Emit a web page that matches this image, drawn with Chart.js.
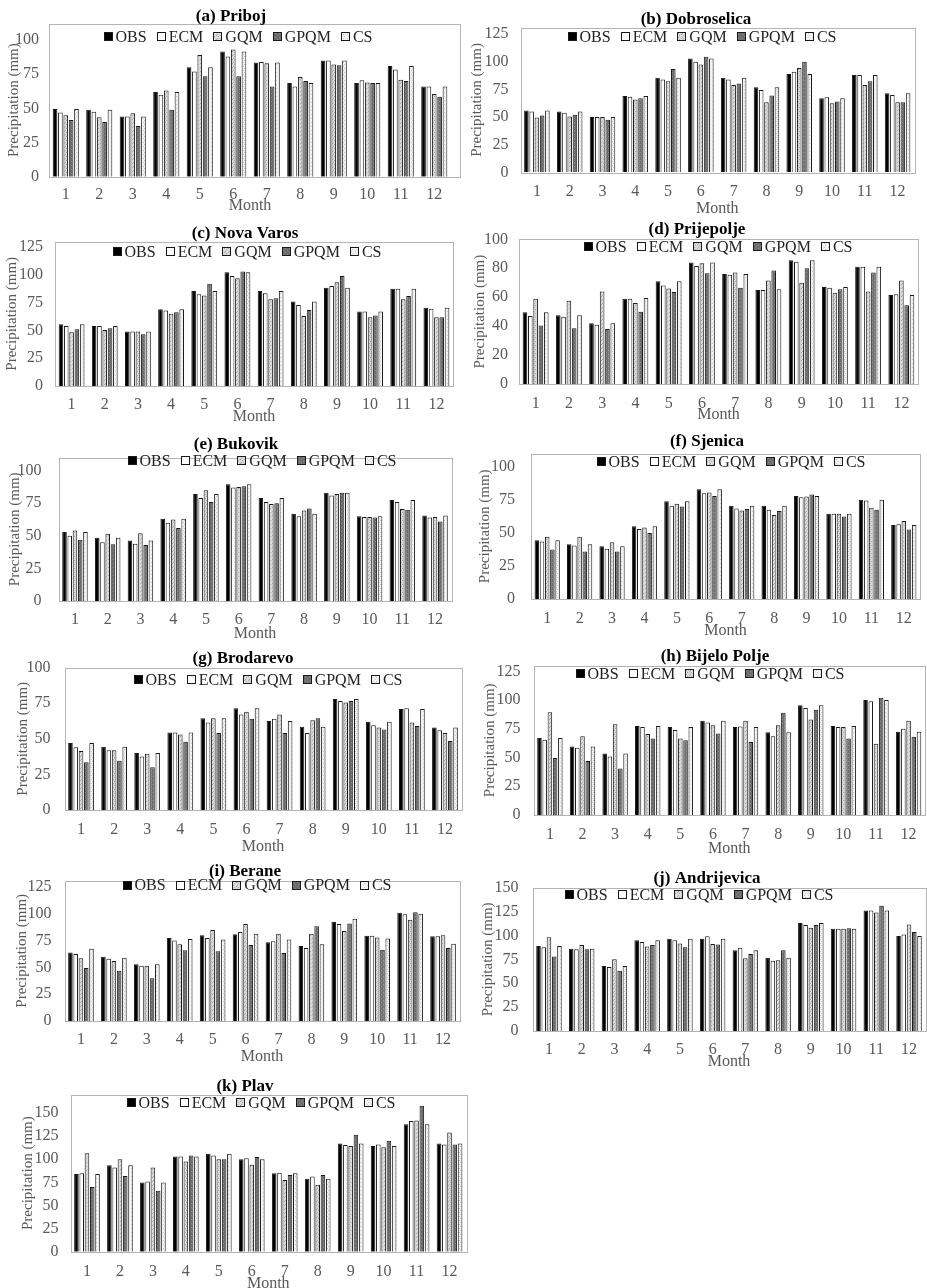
<!DOCTYPE html>
<html>
<head>
<meta charset="utf-8">
<title>Monthly precipitation by station</title>
<script src="https://cdn.jsdelivr.net/npm/chart.js@4.4.1/dist/chart.umd.min.js"></script>
<style>
    body { margin: 0; background: #fff; }
    #page { position: relative; width: 927px; height: 1288px; overflow: hidden; background: #fff; }
    #page canvas { position: absolute; }
</style>
</head>
<body>
<div id="page"></div>
<script>
// data (mm), one row per station a..k
const months = ['1', '2', '3', '4', '5', '6', '7', '8', '9', '10', '11', '12'];
const seriesNames = ['OBS', 'ECM', 'GQM', 'GPQM', 'CS'];
const stations = ['(a) Priboj', '(b) Dobroselica', '(c) Nova Varos', '(d) Prijepolje', '(e) Bukovik', '(f) Sjenica',
    '(g) Brodarevo', '(h) Bijelo Polje', '(i) Berane', '(j) Andrijevica', '(k) Plav'];
const yMax = [112, 131, 130, 100, 110, 110, 100, 130, 131, 150, 170];
const yStep = [25, 25, 25, 20, 25, 25, 25, 25, 25, 25, 25];

const obsValues = [
    [49.5, 49, 44, 62, 80, 91.5, 83.5, 68.5, 85, 68.5, 81, 66],
    [56, 55, 50, 69, 85.5, 103, 85.5, 77, 89, 67, 88, 71.5],
    [55.5, 54, 49, 69, 85.5, 102.5, 85.5, 76, 88.5, 67, 87.5, 70.5],
    [49.5, 47.5, 42, 59, 71, 84, 76, 65, 85.5, 67, 81, 61.5],
    [53, 48.5, 46.5, 63, 82, 89.5, 79, 67, 83, 65, 77.5, 65.5],
    [44.5, 41.5, 40, 55, 74, 83, 70.5, 70.5, 78, 64.5, 75, 56],
    [47, 44.5, 40, 54.5, 64.5, 71.5, 62.5, 58.5, 78, 62, 71, 58],
    [67, 59.5, 53.5, 77.5, 76.5, 82, 76.5, 72, 95.5, 77.5, 100, 72.5],
    [64, 60, 53, 77.5, 80, 81, 73.5, 70, 92.5, 79.5, 101, 79],
    [89, 86, 68, 95, 96.5, 96.5, 84.5, 76.5, 113, 107, 126, 99.5],
    [84, 93.5, 75, 103, 106, 100, 85, 79, 117, 114.5, 138, 117]
];
const ecmValues = [
    [47, 47.5, 44, 60, 77, 88, 84, 66, 85, 70.5, 78.5, 66],
    [55, 54, 50, 68.5, 84, 100, 84, 74.5, 91, 68, 88, 70],
    [54, 54, 49, 68, 82.5, 99, 83.5, 73, 90, 67, 87.5, 69.5],
    [47, 46.5, 41, 59, 68, 81.5, 75.5, 65, 84.5, 66.5, 81, 62],
    [50, 45, 44, 60, 79, 87, 76, 65, 81, 64.5, 76, 64],
    [43.5, 40.5, 38, 53, 70.5, 80, 68.5, 67.5, 77, 64.5, 74.5, 56.5],
    [44, 42, 37.5, 54.5, 61.5, 67, 64, 54, 76.5, 59.5, 71.5, 56],
    [65.5, 58.5, 51, 76.5, 74, 80.5, 77, 68.5, 93, 76.5, 99, 75],
    [62.5, 58, 51.5, 75, 77.5, 83, 74.5, 68, 90.5, 79.5, 99.5, 79],
    [87.5, 85.5, 67, 93, 95, 99, 87, 73.5, 111, 107, 126, 101],
    [85, 91, 76, 103, 104, 101, 85.5, 81.5, 115.5, 116, 141.5, 116]
];
const gqmValues = [
    [45, 43.5, 46.5, 63, 89, 93, 83, 73, 82, 69, 71, 60.5],
    [49.5, 50.5, 50, 66, 82.5, 97.5, 79, 63.5, 94.5, 62.5, 79, 63.5],
    [48.5, 50.5, 49, 65, 81.5, 97, 78, 63, 93.5, 62, 78, 62],
    [59, 57.5, 64, 56, 66, 83.5, 77, 71.5, 70, 63, 64, 71.5],
    [54, 51.5, 52, 62.5, 85, 87.5, 74.5, 69.5, 82, 64.5, 70.5, 64.5],
    [47, 47, 43, 54, 72, 80.5, 67, 63.5, 77.5, 64.5, 69, 59],
    [41.5, 42, 39.5, 53, 64.5, 69, 67, 63, 75.5, 58, 61.5, 54],
    [89.5, 68.5, 79, 70.5, 66.5, 78, 82, 78, 83, 76.5, 62, 82],
    [58.5, 56, 51.5, 71.5, 85, 90.5, 81.5, 81.5, 84, 78, 94.5, 80],
    [98, 90, 75, 88.5, 91.5, 91, 76, 74, 108, 107, 124, 111.5],
    [106.5, 100, 91, 97.5, 100, 94, 77.5, 72.5, 114.5, 113, 142, 129]
];
const gpqmValues = [
    [41.5, 40, 37, 49, 73.5, 73.5, 66, 70, 81.5, 68.5, 70, 58.5],
    [51.5, 52, 47.5, 67, 93.5, 104.5, 80.5, 69.5, 100, 64, 82.5, 63.5],
    [51, 52, 46.5, 66.5, 92, 103, 79, 68.5, 99, 63.5, 81, 62],
    [40.5, 38.5, 38, 50, 63.5, 76.5, 66.5, 78.5, 80, 65.5, 77, 54.5],
    [47, 43.5, 43, 56, 76, 88, 75, 71, 83, 64, 70, 61],
    [37.5, 36, 36, 50, 70, 78, 68, 66.5, 79, 62.5, 67.5, 52.5],
    [33.5, 34.5, 30, 48, 54, 64, 54, 64.5, 76.5, 56.5, 59, 48.5],
    [49.5, 47, 40.5, 66.5, 65, 71, 63.5, 89, 91.5, 66.5, 102, 68],
    [49.5, 47, 40, 66, 65, 71, 63.5, 88.5, 91, 66.5, 101.5, 68],
    [78, 85.5, 63, 90, 87.5, 90.5, 80.5, 84.5, 111, 107.5, 131, 103.5],
    [70, 82, 66, 104, 100, 102.5, 83, 83, 126.5, 120, 158, 116]
];
const csValues = [
    [49.5, 49, 44, 62, 80, 91.5, 83.5, 68.5, 85, 68.5, 81, 66],
    [56, 55, 50, 69, 85.5, 103, 85.5, 77, 89, 67, 88, 71.5],
    [55.5, 54, 49, 69, 85.5, 102.5, 85.5, 76, 88.5, 67, 87.5, 70.5],
    [49.5, 47.5, 42, 59.5, 71, 84, 76, 65.5, 85.5, 67, 81, 61.5],
    [53, 48.5, 46.5, 63, 82, 89.5, 79, 67, 83, 65, 77.5, 65.5],
    [44.5, 41.5, 40, 55, 74, 83, 70.5, 70.5, 78, 64.5, 75, 56],
    [47, 44.5, 40, 54.5, 64.5, 71.5, 62.5, 58.5, 78, 62, 71, 58],
    [67, 59.5, 53.5, 77.5, 76.5, 82, 76.5, 72, 95.5, 77.5, 100, 72.5],
    [67.5, 59, 53, 76.5, 76, 81.5, 76, 71.5, 95.5, 77, 100, 72],
    [89, 86, 68, 95, 96.5, 96.5, 84.5, 76.5, 113, 107, 126, 99.5],
    [84, 93.5, 75, 103, 106, 100, 85, 79, 117, 114.5, 138, 117]
];

// panel placement on the page (px)
const panels = [
    { cx: 0,   cw: 470, l: 49,    r: 451,   fr: 460, t: 23.6,   b: 176.7,  titleX: 231, titleY: 16.7,   legX: 238, legY: 36.7,   tickY: 195,    monthY: 206,    yTitleX: 14,  tickPad: 10 },
    { cx: 465, cw: 462, l: 520.5, r: 914,   t: 25.6,   b: 172.3,  titleX: 696, titleY: 20,     legX: 702, legY: 36.7,   tickY: 191.7,  monthY: 208.3,  yTitleX: 477, tickPad: 12 },
    { cx: 0,   cw: 470, l: 55,    r: 453,   t: 240.4,  b: 386,    titleX: 245, titleY: 234,    legX: 247, legY: 251.7,  tickY: 405,    monthY: 417,    yTitleX: 12,  tickPad: 12 },
    { cx: 465, cw: 462, l: 519,   r: 918,   t: 239.3,  b: 384,    titleX: 697, titleY: 230,    legX: 718, legY: 246.7,  tickY: 403.3,  monthY: 415,    yTitleX: 480, tickPad: 11 },
    { cx: 0,   cw: 470, l: 58.6,  r: 451.4, t: 450.6,  b: 601,    titleX: 236, titleY: 445,    legX: 262, legY: 460.7,  tickY: 620,    monthY: 633.3,  yTitleX: 15,  tickPad: 17 },
    { cx: 465, cw: 462, l: 531,   r: 920,   t: 449.7,  b: 599,    titleX: 707, titleY: 441.7,  legX: 731, legY: 461.7,  tickY: 618.3,  monthY: 631,    yTitleX: 485, tickPad: 16 },
    { cx: 0,   cw: 470, l: 64.5,  r: 461.5, t: 666,    b: 810,    titleX: 243, titleY: 658.3,  legX: 268, legY: 679.3,  tickY: 830,    monthY: 846.7,  yTitleX: 23,  tickPad: 14 },
    { cx: 465, cw: 462, l: 533.6, r: 926.5, t: 662.5,  b: 815,    titleX: 715, titleY: 656.7,  legX: 710, legY: 673.3,  tickY: 835,    monthY: 848.3,  yTitleX: 490, tickPad: 13 },
    { cx: 0,   cw: 470, l: 64.5,  r: 459.5, t: 875,    b: 1021,   titleX: 245, titleY: 871.7,  legX: 257, legY: 885,    tickY: 1040,   monthY: 1056.7, yTitleX: 22,  tickPad: 13 },
    { cx: 465, cw: 462, l: 532.6, r: 925.4, t: 885,    b: 1031,   titleX: 707, titleY: 878.3,  legX: 699, legY: 894.3,  tickY: 1050,   monthY: 1061.7, yTitleX: 488, tickPad: 14 },
    { cx: 0,   cw: 470, l: 70.5,  r: 466,   t: 1091.2, b: 1251.7, titleX: 245, titleY: 1086.7, legX: 261, legY: 1102.3, tickY: 1271.7, monthY: 1283.3, yTitleX: 28,  tickPad: 12 }
];

const serif = "'Liberation Serif', 'Times New Roman', serif";
const axisGrey = '#595959';

// speckled fills like the printed figure (fixed dot layout on a 4x4 tile)
function speckle(base, dot, cells) {
    const tile = document.createElement('canvas');
    tile.width = 4;
    tile.height = 4;
    const tctx = tile.getContext('2d');
    tctx.fillStyle = base;
    tctx.fillRect(0, 0, 4, 4);
    tctx.fillStyle = dot;
    cells.forEach(([x, y]) => tctx.fillRect(x, y, 1, 1));
    return tctx.createPattern(tile, 'repeat');
}

const seriesFill = [
    '#000000',
    '#ffffff',
    speckle('#dadada', '#a8a8a8', [[0, 0], [2, 1], [1, 3]]),
    speckle('#6c6c6c', '#8a8a8a', [[1, 0], [3, 2]]),
    speckle('#f2f2f2', '#c8c8c8', [[0, 1], [3, 3]])
];

// frame, title and in-plot legend, Excel style
const panelDecor = {
    id: 'panelDecor',
    beforeDatasetsDraw(chart, args, opts) {
        const { ctx, chartArea } = chart;
        const right = opts.frameRight != null ? opts.frameRight : chartArea.right;
        ctx.save();
        ctx.strokeStyle = '#b4b4b4';
        ctx.lineWidth = 1;
        ctx.strokeRect(Math.round(chartArea.left) + 0.5, Math.round(chartArea.top) + 0.5,
            Math.round(right - chartArea.left), Math.round(chartArea.bottom - chartArea.top));
        ctx.restore();
    },
    afterDatasetsDraw(chart, args, opts) {
        const { ctx } = chart;
        ctx.save();
        // legend
        ctx.font = '16px ' + serif;
        ctx.textBaseline = 'middle';
        const box = 9, boxGap = 3, itemGap = 10;
        const items = chart.data.datasets.map((ds) => ({ ds, w: box + boxGap + ctx.measureText(ds.label).width }));
        const total = items.reduce((s, it) => s + it.w, 0) + itemGap * (items.length - 1);
        let x = opts.legX - total / 2;
        items.forEach((it) => {
            const y = Math.round(opts.legY - box / 2);
            ctx.fillStyle = it.ds.backgroundColor;
            ctx.fillRect(Math.round(x), y, box, box);
            ctx.strokeStyle = '#1a1a1a';
            ctx.lineWidth = 1;
            ctx.strokeRect(Math.round(x) + 0.5, y + 0.5, box - 1, box - 1);
            ctx.fillStyle = '#222';
            ctx.textAlign = 'left';
            ctx.fillText(it.ds.label, x + box + boxGap, opts.legY + 1);
            x += it.w + itemGap;
        });
        // title
        ctx.font = 'bold 17px ' + serif;
        ctx.fillStyle = '#000';
        ctx.textAlign = 'center';
        ctx.fillText(opts.title, opts.titleX, opts.titleY);
        ctx.restore();
    }
};

const page = document.getElementById('page');

panels.forEach((p, i) => {
    const cy = Math.round(p.titleY - 14);
    const ch = Math.round(p.monthY + 9.6 - cy);
    const canvas = document.createElement('canvas');
    canvas.width = p.cw;
    canvas.height = ch;
    canvas.style.left = p.cx + 'px';
    canvas.style.top = cy + 'px';
    page.appendChild(canvas);

    const seriesValues = [obsValues[i], ecmValues[i], gqmValues[i], gpqmValues[i], csValues[i]];

    new Chart(canvas, {
        type: 'bar',
        data: {
            labels: months,
            datasets: seriesNames.map((name, k) => ({
                label: name,
                data: seriesValues[k],
                backgroundColor: seriesFill[k],
                borderColor: '#1a1a1a',
                borderWidth: 1,
                categoryPercentage: 0.8,
                barPercentage: 0.87
            }))
        },
        options: {
            responsive: false,
            animation: false,
            devicePixelRatio: 1,
            layout: { padding: { left: 0, top: p.t - cy, right: p.cx + p.cw - p.r, bottom: 0 } },
            plugins: {
                legend: { display: false },
                tooltip: { enabled: false },
                panelDecor: {
                    title: stations[i],
                    titleX: p.titleX - p.cx,
                    titleY: p.titleY - cy,
                    legX: p.legX - p.cx,
                    legY: p.legY - cy,
                    frameRight: p.fr != null ? p.fr - p.cx : null
                }
            },
            scales: {
                x: {
                    grid: { display: false, drawTicks: false },
                    border: { display: false },
                    ticks: { color: axisGrey, font: { family: serif, size: 16 }, padding: p.tickY - p.b - 9.6 },
                    title: {
                        display: true, text: 'Month', color: axisGrey,
                        font: { family: serif, size: 16 },
                        padding: { top: 0, bottom: (cy + ch) - 9.6 - p.monthY }
                    },
                    afterFit(scale) { scale.height = cy + ch - p.b; }
                },
                y: {
                    min: 0,
                    max: yMax[i],
                    grid: { display: false, drawTicks: false },
                    border: { display: false },
                    ticks: { stepSize: yStep[i], includeBounds: false, color: axisGrey, font: { family: serif, size: 16 }, padding: p.tickPad },
                    title: {
                        display: true, text: 'Precipitation (mm)', color: axisGrey,
                        font: { family: serif, size: 15 },
                        padding: { top: p.yTitleX - p.cx - 9, bottom: 0 }
                    },
                    afterFit(scale) { scale.width = p.l - p.cx; }
                }
            }
        },
        plugins: [panelDecor]
    });
});
</script>
</body>
</html>
